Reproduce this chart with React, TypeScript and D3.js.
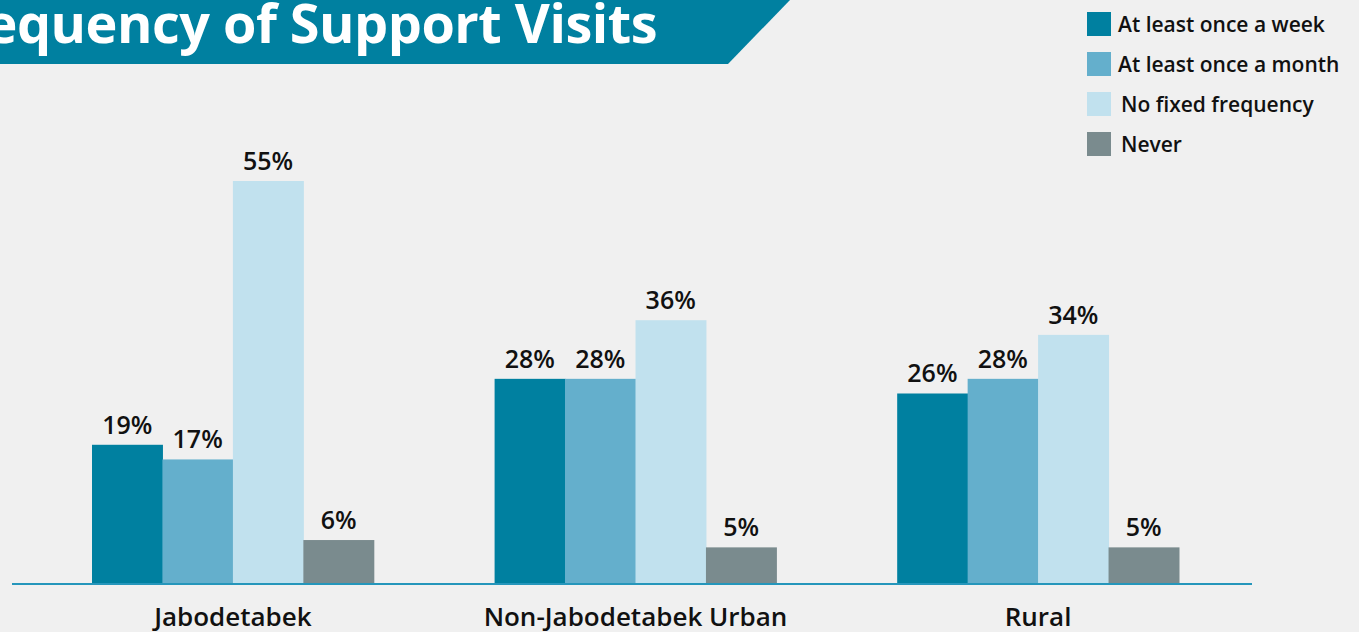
import React, { useEffect, useRef } from "react";
import * as d3 from "d3";

const regions = ["Jabodetabek", "Non-Jabodetabek Urban", "Rural"];
const frequencies = [
  "At least once a week",
  "At least once a month",
  "No fixed frequency",
  "Never",
];
const weekly = [19, 28, 26];
const monthly = [17, 28, 28];
const noFixed = [55, 36, 34];
const never = [6, 5, 5];
const colors = ["#0080a0", "#64afcc", "#c1e1ee", "#7a8b8e"];

const W = 1359;
const H = 632;
const FONT = "'Open Sans', 'Noto Sans', sans-serif";

const App = () => {
  const ref = useRef<SVGSVGElement>(null);

  useEffect(() => {
    document.body.style.margin = "0";
    document.body.style.background = "#f0f0f0";

    const svg = d3.select(ref.current);
    svg.selectAll("*").remove();

    svg.append("rect").attr("width", W).attr("height", H).attr("fill", "#f0f0f0");

    // title banner (title runs off the left edge, as in the original)
    svg.append("path")
      .attr("d", "M0,0 L790,0 L728,64 L0,64 Z")
      .attr("fill", "#0080a0");
    svg.append("text")
      .attr("x", 657)
      .attr("y", 43)
      .attr("text-anchor", "end")
      .attr("fill", "#fff")
      .style("font", `700 54px ${FONT}`)
      .attr("letter-spacing", -0.5)
      .text("Frequency of Support Visits");

    const series = [weekly, monthly, noFixed, never];
    const rows = regions.map((r, i) => ({
      region: r,
      values: series.map((s, k) => ({ key: frequencies[k], value: s[i], k })),
    }));

    const x0 = d3.scaleBand().domain(regions).range([92, 1179]).paddingInner(0.3);
    const x1 = d3.scaleBand().domain(frequencies).range([0, x0.bandwidth()]);
    const y = d3.scaleLinear().domain([0, 55]).range([584, 181]);

    const g = svg.append("g")
      .selectAll("g")
      .data(rows)
      .join("g")
      .attr("transform", d => `translate(${x0(d.region)},0)`);

    g.selectAll("rect")
      .data(d => d.values)
      .join("rect")
      .attr("x", d => x1(d.key)!)
      .attr("width", x1.bandwidth() + 0.5)
      .attr("y", d => y(d.value))
      .attr("height", d => y(0) - y(d.value))
      .attr("fill", d => colors[d.k]);

    g.selectAll("text")
      .data(d => d.values)
      .join("text")
      .attr("x", d => x1(d.key)! + x1.bandwidth() / 2)
      .attr("y", d => y(d.value) - 11)
      .attr("text-anchor", "middle")
      .attr("fill", "#111")
      .style("font", `600 25px ${FONT}`)
      .text(d => `${d.value}%`);

    // axis line
    svg.append("line")
      .attr("x1", 12).attr("x2", 1252)
      .attr("y1", 584).attr("y2", 584)
      .attr("stroke", "#2596bb")
      .attr("stroke-width", 2);

    svg.append("g")
      .selectAll("text")
      .data(regions)
      .join("text")
      .attr("x", d => x0(d)! + x0.bandwidth() / 2)
      .attr("y", 626)
      .attr("text-anchor", "middle")
      .attr("fill", "#111")
      .style("font", `600 26px ${FONT}`)
      .text(d => d);

    // legend
    const leg = svg.append("g")
      .selectAll("g")
      .data(frequencies)
      .join("g")
      .attr("transform", (d, i) => `translate(1087,${12 + i * 40})`);
    leg.append("rect")
      .attr("width", 24).attr("height", 24)
      .attr("fill", (d, i) => colors[i]);
    leg.append("text")
      .attr("x", (d, i) => (i < 2 ? 31 : 34))
      .attr("y", 20)
      .attr("fill", "#111")
      .style("font", `600 21px ${FONT}`)
      .text(d => d);
  }, []);

  return <svg ref={ref} width={W} height={H} style={{ display: "block" }}></svg>;
};

export default App;
